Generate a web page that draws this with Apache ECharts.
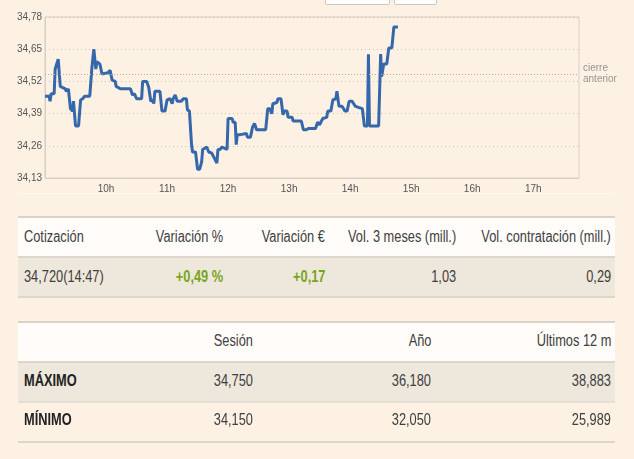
<!DOCTYPE html>
<html>
<head>
<meta charset="utf-8">
<script src="https://cdn.jsdelivr.net/npm/echarts@6/dist/echarts.min.js"></script>
<style>
  html, body { margin:0; padding:0; background:#fdf1e4; width:634px; height:459px; overflow:hidden; }
  #chart { position:absolute; left:0; top:0; width:634px; height:459px; }
  .btn { position:absolute; top:-10px; height:13px; background:#fffdfb; border:1px solid #cfc8bf; border-radius:2px; }
  .band { position:absolute; }
  .cell { position:absolute; font-family:"Liberation Sans",Arial,sans-serif; font-size:16px; color:#404040; white-space:nowrap; line-height:20px; }
  .cell.l { transform:scaleX(0.8); transform-origin:left center; }
  .cell.r { transform:scaleX(0.8); transform-origin:right center; text-align:right; }
  .bold { font-weight:bold; color:#222; }
  .green { font-weight:bold; color:#77a51d; }
</style>
</head>
<body>
<div id="chart"></div>
<div id="tables"></div>
<script>
// ---- data ----
const times = ["09:00","09:04","09:05","09:06","09:09","09:10","09:13","09:15","09:20","09:21","09:23","09:25","09:27","09:28","09:30","09:33","09:35","09:37","09:39","09:44","09:46","09:48","09:50","09:51","09:54","09:56","10:02","10:04","10:06","10:09","10:10","10:14","10:18","10:20","10:24","10:26","10:28","10:30","10:35","10:36","10:40","10:42","10:44","10:46","10:47","10:48","10:53","10:55","10:58","11:00","11:03","11:05","11:06","11:08","11:10","11:14","11:16","11:19","11:20","11:22","11:24","11:25","11:28","11:30","11:32","11:34","11:35","11:37","11:39","11:41","11:44","11:45","11:49","11:50","11:52","11:54","11:59","12:00","12:04","12:05","12:07","12:08","12:09","12:12","12:13","12:18","12:19","12:22","12:24","12:26","12:28","12:37","12:39","12:41","12:43","12:44","12:48","12:49","12:52","12:54","12:55","12:58","12:59","13:03","13:04","13:12","13:14","13:17","13:19","13:26","13:28","13:30","13:33","13:37","13:38","13:41","13:43","13:46","13:47","13:49","13:52","13:55","13:57","13:59","14:02","14:05","14:08","14:12","14:14","14:17","14:18","14:19","14:28","14:30","14:31","14:33","14:36","14:38","14:41","14:43","14:47"];
const prices = [34.46,34.46,34.44,34.47,34.47,34.57,34.61,34.50,34.49,34.48,34.49,34.41,34.40,34.44,34.34,34.34,34.445,34.45,34.46,34.46,34.57,34.65,34.57,34.60,34.59,34.55,34.555,34.565,34.525,34.52,34.50,34.49,34.49,34.49,34.49,34.465,34.47,34.45,34.45,34.52,34.52,34.495,34.44,34.445,34.43,34.48,34.48,34.40,34.40,34.445,34.45,34.43,34.45,34.465,34.44,34.44,34.45,34.45,34.405,34.40,34.27,34.235,34.235,34.165,34.165,34.195,34.245,34.25,34.255,34.235,34.23,34.225,34.19,34.245,34.245,34.255,34.245,34.37,34.37,34.355,34.355,34.265,34.305,34.305,34.31,34.31,34.295,34.295,34.335,34.35,34.325,34.325,34.41,34.41,34.39,34.43,34.435,34.45,34.45,34.385,34.40,34.40,34.375,34.375,34.36,34.36,34.325,34.325,34.33,34.33,34.355,34.345,34.37,34.375,34.40,34.40,34.445,34.45,34.48,34.42,34.42,34.40,34.40,34.44,34.44,34.42,34.415,34.41,34.34,34.34,34.63,34.34,34.34,34.63,34.54,34.59,34.59,34.655,34.655,34.74,34.74];
const previousClose = 34.55;
const hourLabels = ["10h","11h","12h","13h","14h","15h","16h","17h"];
const yTicks = [34.13,34.26,34.39,34.52,34.65,34.78];

const quoteHeaders = ["Cotización","Variación %","Variación €","Vol. 3 meses (mill.)","Vol. contratación (mill.)"];
const quoteValues = ["34,720(14:47)","+0,49 %","+0,17","1,03","0,29"];
const rangeHeaders = ["","Sesión","Año","Últimos 12 m"];
const maxRow = ["MÁXIMO","34,750","36,180","38,883"];
const minRow = ["MÍNIMO","34,150","32,050","25,989"];

// ---- chart ----
const toMin = s => { const p = s.split(":"); return (+p[0]-9)*60 + (+p[1]); };
const seriesData = times.map((t,i) => [toMin(t), prices[i]]);

const chart = echarts.init(document.getElementById('chart'), null, {renderer:'canvas'});
chart.setOption({
  animation:false,
  backgroundColor:'transparent',
  grid:{ left:45, top:17, width:534, height:161, show:true, borderColor:'#d8cfc3', borderWidth:1, backgroundColor:'transparent' },
  xAxis:{
    type:'value', min:0, max:525, interval:60,
    axisLine:{ show:true, lineStyle:{ color:'#d8cfc3' } },
    axisTick:{ show:false },
    splitLine:{ show:false },
    axisLabel:{
      color:'#555', fontSize:10, fontFamily:'Liberation Sans, Arial, sans-serif', margin:6,
      formatter: v => { const k = Math.round(v/60); return (k>=1 && k<=hourLabels.length && v%60===0) ? hourLabels[k-1] : ''; },
      showMinLabel:false, showMaxLabel:false
    }
  },
  yAxis:{
    type:'value', min:yTicks[0], max:yTicks[yTicks.length-1], interval:0.13,
    axisLine:{ show:true, lineStyle:{ color:'#d8cfc3' } },
    axisTick:{ show:false },
    splitLine:{ show:true, lineStyle:{ color:'#c9c0b3', type:[1,3], width:1 } },
    axisLabel:{
      color:'#555', fontSize:10, fontFamily:'Liberation Sans, Arial, sans-serif', margin:3,
      formatter: v => v.toFixed(2).replace('.', ',')
    }
  },
  series:[{
    type:'line', data:seriesData, showSymbol:false, symbol:'none',
    lineStyle:{ color:'#3567ab', width:3 },
    markLine:{
      silent:true, symbol:'none',
      lineStyle:{ color:'#b4aa9d', type:[1,2], width:1 },
      label:{ show:true, position:'end', formatter:'cierre\nanterior', color:'#9a948c', fontSize:10, lineHeight:11, fontFamily:'Liberation Sans, Arial, sans-serif', distance:4, padding:[6,0,0,0] },
      data:[{ yAxis: previousClose }]
    }
  }]
});

// ---- tables (HTML text) ----
const host = document.getElementById('tables');
function band(top, h, color) {
  const d = document.createElement('div'); d.className='band';
  d.style.cssText = `left:18px;width:597px;top:${top}px;height:${h}px;background:${color}`;
  host.appendChild(d);
}
function cell(text, yc, opts) {
  const d = document.createElement('div');
  d.className = 'cell ' + (opts.left !== undefined ? 'l' : 'r') + (opts.cls ? ' '+opts.cls : '');
  d.textContent = text;
  d.style.top = (yc - 10) + 'px';
  if (opts.left !== undefined) d.style.left = opts.left + 'px';
  else d.style.right = (634 - opts.right) + 'px';
  host.appendChild(d);
}
// top buttons
['325,63','394,41'].forEach(s => { const [l,w]=s.split(','); const b=document.createElement('div'); b.className='btn'; b.style.left=l+'px'; b.style.width=w+'px'; host.appendChild(b); });
// faint separator under chart
band(193, 1, '#fff8f0');

// table 1
band(216, 2, '#d9d2c8');
band(218, 38, '#fffcf9');
band(256, 2, '#ddd6cc');
band(258, 38, '#eee7db');
band(296, 2, '#ddd6cc');
const q1Right = [null, 223, 325, 456, 611];
quoteHeaders.forEach((h,i) => cell(h, 237, i===0 ? {left:24} : {right:q1Right[i]}));
quoteValues.forEach((v,i) => cell(v, 277, i===0 ? {left:24} : {right:q1Right[i], cls:(i===1||i===2)?'green':''}));

// table 2
band(321, 2, '#d9d2c8');
band(323, 38, '#fffcf9');
band(361, 1.5, '#ddd6cc');
band(362.5, 38.5, '#eee7db');
band(401, 1.5, '#e6dfd5');
band(441, 2, '#ddd6cc');
const q2Right = [null, 253, 431, 611];
rangeHeaders.forEach((h,i) => { if (i>0) cell(h, 341, {right:q2Right[i]}); });
maxRow.forEach((v,i) => cell(v, 381, i===0 ? {left:24, cls:'bold'} : {right:q2Right[i]}));
minRow.forEach((v,i) => cell(v, 420, i===0 ? {left:24, cls:'bold'} : {right:q2Right[i]}));
</script>
</body>
</html>
